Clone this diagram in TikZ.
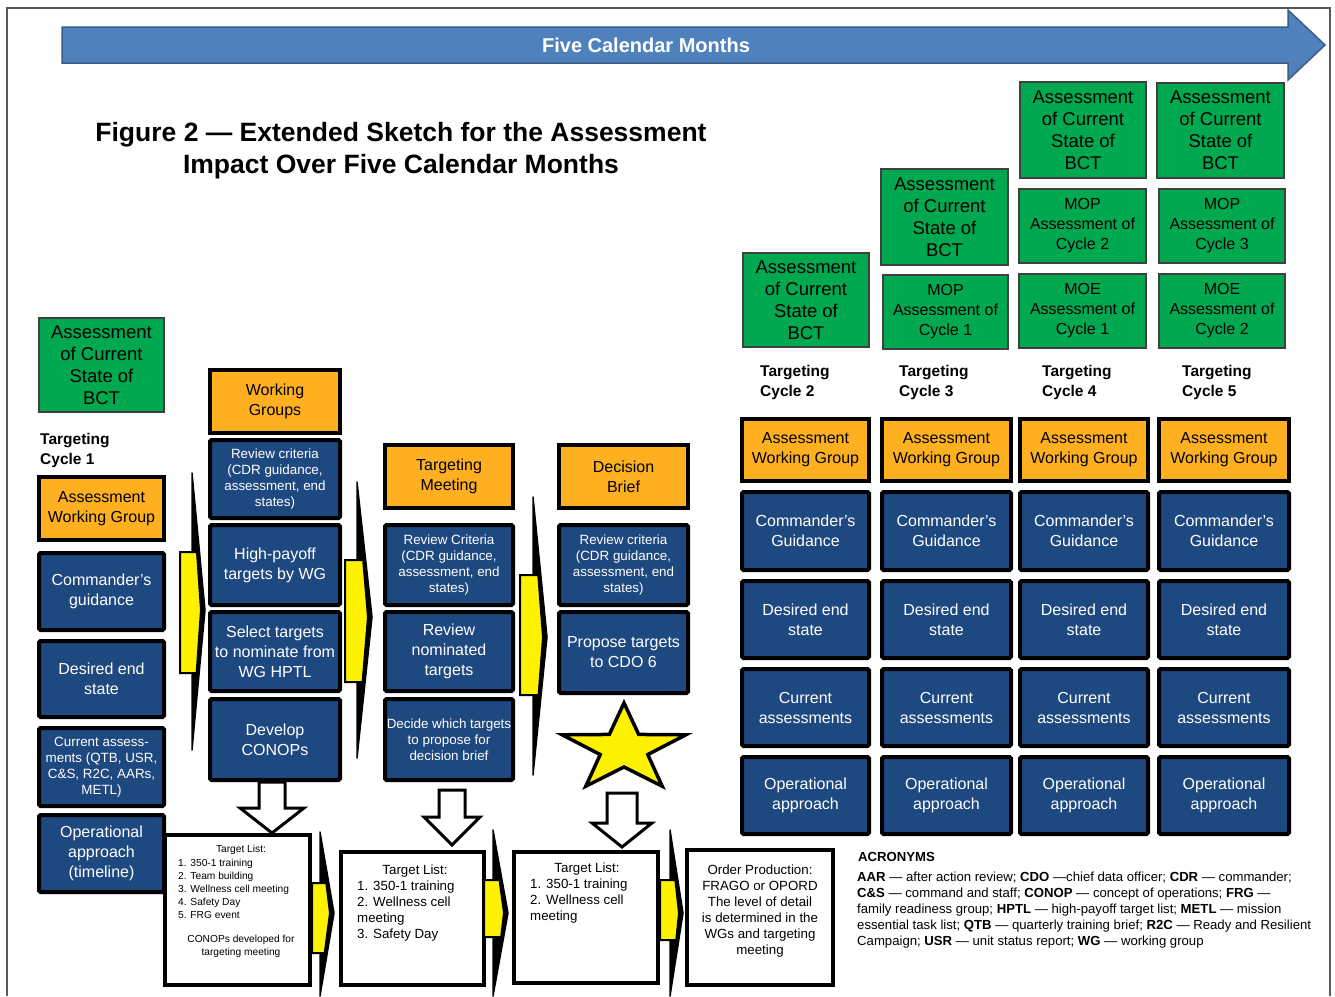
\documentclass[tikz,border=0pt]{standalone}
\usepackage{fontspec}
\setmainfont{Liberation Sans}
\definecolor{asgreen}{RGB}{0,168,80}
\definecolor{wgorange}{RGB}{255,176,32}
\definecolor{cdrblue}{RGB}{30,72,128}
\definecolor{barblue}{RGB}{79,129,189}
\definecolor{baredge}{RGB}{56,93,138}
\tikzset{
sz/.style 2 args={minimum width={#1-4},minimum height={#2-4}},
grn/.style={draw=black!75,line width=1.2,fill=asgreen,align=center,inner sep=0,
  font=\fontsize{18.5}{22}\selectfont},
org/.style={draw=black,line width=4,fill=wgorange,align=center,inner sep=0,
  font=\fontsize{16}{20}\selectfont},
blu/.style={draw=black,line width=4,fill=cdrblue,text=white,align=center,inner sep=0,
  rounded corners=1.5,font=\fontsize{16}{20}\selectfont},
sml/.style={font=\fontsize{13.4}{16}\selectfont},
lst/.style={draw=black,line width=4,fill=white,inner sep=0},
cyc/.style={anchor=west,align=left,inner sep=0,font=\bfseries\fontsize{15.5}{20}\selectfont},
tl/.style={inner sep=0,font=\fontsize{13.3}{16}\selectfont},
tls/.style={inner sep=0,font=\fontsize{10.2}{13}\selectfont},
spike/.style={fill=black,draw=black,line width=1.5,line join=round},
yel/.style={draw=black,line width=2,fill=yellow},
hol/.style={draw=black,line width=3,fill=white}}

\begin{document}
\begin{tikzpicture}[x=1pt,y=-1pt]
\fill[white] (0,0) rectangle (1335,996);
\useasboundingbox (0,0) rectangle (1335,996);
\draw[black!65,line width=1.2] (7,996) -- (7,8) -- (1330,8) -- (1330,996);

% time bar and title
\draw[fill=barblue,draw=baredge,line width=1.5] (62,27) -- (1288,27) -- (1288,10)
  -- (1325,45) -- (1288,80) -- (1288,63) -- (62,63) -- cycle;
\node[text=white,font=\bfseries\fontsize{20}{24}\selectfont] (months) at (646,45) {Five Calendar Months};
\node[align=center,font=\bfseries\fontsize{26.5}{32}\selectfont] (title) at (401,151)
  {Figure 2 — Extended Sketch for the Assessment\\Impact Over Five Calendar Months};

% targeting cycle 1
\node[grn,sz={129}{98}] (as1) at (101.5,365) {Assessment\\of Current\\State of\\BCT};
\node[cyc] (tc1) at (40,450) {Targeting\\Cycle 1};
\node[org,sz={129}{67}] (awg1) at (101.5,508.5) {Assessment\\Working Group};
\node[blu,sz={129}{81}] (cg1) at (101.5,591.5) {Commander’s\\guidance};
\node[blu,sz={129}{80}] (des1) at (101.5,679) {Desired end\\state};
\node[blu,sml,sz={129}{82}] (cur1) at (101.5,767) {Current assess-\\ments (QTB, USR,\\C\&S, R2C, AARs,\\METL)};
\node[blu,sz={129}{81}] (op1) at (101.5,853.5) {Operational\\approach\\(timeline)};

% working groups
\node[org,sz={134}{67}] (wg) at (275,401.5) {Working\\Groups};
\node[blu,sml,sz={134}{82}] (wgrc) at (275,479) {Review criteria\\(CDR guidance,\\assessment, end\\states)};
\node[blu,sz={134}{84}] (hpt) at (275,565) {High-payoff\\targets by WG};
\node[blu,sz={134}{83}] (sel) at (275,651.5) {Select targets\\to nominate from\\WG HPTL};
\node[blu,sz={134}{85}] (dev) at (275,739.5) {Develop\\CONOPs};

% targeting meeting
\node[org,sz={132}{67}] (tm) at (449,476.5) {Targeting\\Meeting};
\node[blu,sml,sz={132}{84}] (tmrc) at (449,565) {Review Criteria\\(CDR guidance,\\assessment, end\\states)};
\node[blu,sz={132}{83}] (rev) at (449,651.5) {Review\\nominated\\targets};
\node[blu,sml,sz={132}{85}] (dec) at (449,739.5) {Decide which targets\\to propose for\\decision brief};

% decision brief
\node[org,sz={133}{67}] (db) at (623.5,476.5) {Decision\\Brief};
\node[blu,sml,sz={133}{84}] (dbrc) at (623.5,565) {Review criteria\\(CDR guidance,\\assessment, end\\states)};
\node[blu,sz={133}{85}] (prop) at (623.5,652.5) {Propose targets\\to CDO 6};
\draw[fill=yellow,draw=black,line width=3.5] plot[samples at={0,...,9},variable=\k]
  ({624+ifthenelse(mod(\k,2)==0,65,25)*cos(90+36*\k)},
   {749-ifthenelse(mod(\k,2)==0,46,18)*sin(90+36*\k)}) -- cycle;

% target lists
\node[lst,sz={149}{154}] (tl1) at (237.5,910) {};
\node[lst,sz={147}{137}] (tl2) at (412.5,918.5) {};
\node[lst,sz={148}{135}] (tl3) at (586,917.5) {};
\node[lst,sz={150}{139}] (tl4) at (760,917.5) {};
\node[tls] (tl1a) at (241,850) {Target List:};
\node[tls,anchor=west,align=left] (tl1b) at (178,888.5) {1. 350-1 training\\2. Team building\\3. Wellness cell meeting\\4. Safety Day\\5. FRG event};
\node[tls,align=center] (tl1c) at (241,946.5) {CONOPs developed for\\targeting meeting};
\node[tl] (tl2a) at (415,871) {Target List:};
\node[tl,anchor=west,align=left] (tl2b) at (357,911) {1. 350-1 training\\2. Wellness cell\\meeting\\3. Safety Day};
\node[tl] (tl3a) at (587,869) {Target List:};
\node[tl,anchor=west,align=left] (tl3b) at (530,901) {1. 350-1 training\\2. Wellness cell\\meeting};
\node[tl,align=center] (tl4a) at (760,911) {Order Production:\\FRAGO or OPORD\\The level of detail\\is determined in the\\WGs and targeting\\meeting};

% flow arrows
\foreach \bl/\sx/\tx/\bt/\bb/\st/\sb/\ty in {180/192/205/552/673/473/750/610,
  345/357/372/560/682/482/758/617, 520/533/547/575/695/497/775/637,
  312/320/334/883/953/832/996/913, 484/493/508/880/937/830/996/913,
  660/670/683/880/940/830/996/913}{
  \draw[spike] (\sx,\st) -- (\tx,\ty) -- (\sx,\sb) -- cycle;
  \draw[yel] (\bl,\bt) -- ({\sx+(\tx-\sx)*(\bt-\st)/(\ty-\st)-2.5},\bt) -- ({\tx-4},\ty)
    -- ({\sx+(\tx-\sx)*(\sb-\bb)/(\sb-\ty)-2.5},\bb) -- (\bl,\bb) -- cycle;
}
\foreach \cx/\sw/\tp/\hs/\hw/\tip in {272/13/782/808/32/833,
  452/13/790/817/28/845, 622/15/793/823/30/847}
  \draw[hol] ({\cx-\sw},\tp) -- ({\cx-\sw},\hs) -- ({\cx-\hw},\hs) -- (\cx,\tip)
    -- ({\cx+\hw},\hs) -- ({\cx+\sw},\hs) -- ({\cx+\sw},\tp) -- cycle;

% targeting cycles 2 to 5
\node[grn,sz={130}{98}] (as2) at (806,300) {Assessment\\of Current\\State of\\BCT};
\node[grn,sz={131}{100}] (as3) at (944.5,217) {Assessment\\of Current\\State of\\BCT};
\node[grn,sz={129}{78},font=\fontsize{16}{20}\selectfont] (mop1) at (945.5,312) {MOP\\Assessment of\\Cycle 1};
\node[grn,sz={130}{100}] (as4) at (1083,130) {Assessment\\of Current\\State of\\BCT};
\node[grn,sz={131}{78},font=\fontsize{16}{20}\selectfont] (mop2) at (1082.5,226) {MOP\\Assessment of\\Cycle 2};
\node[grn,sz={131}{78},font=\fontsize{16}{20}\selectfont] (moe1) at (1082.5,311) {MOE\\Assessment of\\Cycle 1};
\node[grn,sz={131}{99}] (as5) at (1220.5,130.5) {Assessment\\of Current\\State of\\BCT};
\node[grn,sz={130}{78},font=\fontsize{16}{20}\selectfont] (mop3) at (1222,226) {MOP\\Assessment of\\Cycle 3};
\node[grn,sz={130}{78},font=\fontsize{16}{20}\selectfont] (moe2) at (1222,311) {MOE\\Assessment of\\Cycle 2};
\foreach \c/\x/\w/\lx in {2/805.5/131/760, 3/946.5/133/899, 4/1084/132/1042, 5/1224/134/1182}{
  \node[cyc] (tc\c) at (\lx,382) {Targeting\\Cycle \c};
  \node[org,sz={\w}{66}] (awg\c) at (\x,450) {Assessment\\Working Group};
  \node[blu,sz={\w}{82}] (cg\c) at (\x,531) {Commander’s\\Guidance};
  \node[blu,sz={\w}{81}] (des\c) at (\x,619.5) {Desired end\\state};
  \node[blu,sz={\w}{81}] (cur\c) at (\x,707.5) {Current\\assessments};
  \node[blu,sz={\w}{81}] (op\c) at (\x,795.5) {Operational\\approach};
}

% acronyms
\node[anchor=west,inner sep=0,font=\bfseries\fontsize{13.15}{16}\selectfont] (acr) at (858,857) {ACRONYMS};
\node[anchor=west,align=left,inner sep=0,font=\fontsize{13.15}{16}\selectfont] (acrlist) at (857,910)
  {\textbf{AAR} — after action review; \textbf{CDO} —chief data officer; \textbf{CDR} — commander;\\
   \textbf{C\&S} — command and staff; \textbf{CONOP} — concept of operations; \textbf{FRG} —\\
   family readiness group; \textbf{HPTL} — high-payoff target list; \textbf{METL} — mission\\
   essential task list; \textbf{QTB} — quarterly training brief; \textbf{R2C} — Ready and Resilient\\
   Campaign; \textbf{USR} — unit status report; \textbf{WG} — working group};
\end{tikzpicture}
\end{document}
